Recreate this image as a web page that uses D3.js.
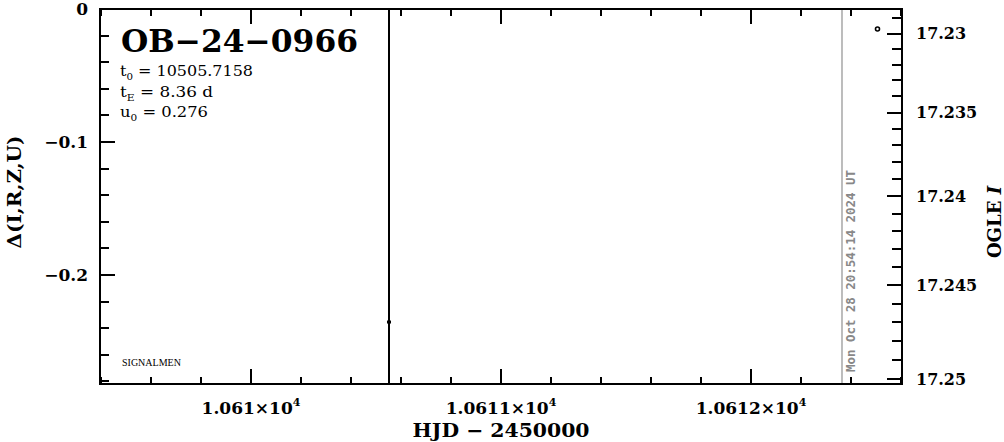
<!DOCTYPE html>
<html><head><meta charset="utf-8">
<script src="https://cdn.jsdelivr.net/npm/d3@7"></script>
<style>
html,body{margin:0;padding:0;background:#fff;}
svg{display:block;}
</style></head>
<body>
<svg id="c" width="1004" height="442"></svg>
<script>
// ---- data ----
const eventName = "OB\u221224\u22120966";
const paramLines = [
  {sym: "t", sub: "0", text: " = 10505.7158"},
  {sym: "t", sub: "E", text: " = 8.36 d"},
  {sym: "u", sub: "0", text: " = 0.276"}
];
const xMajorTicks = [10610, 10611, 10612];
const xMajorLabels = ["1.061", "1.0611", "1.0612"];
const xMinorStep = 0.2;
const xDomain = [10609.396, 10612.604];
const yDomain = [0, -0.282];
const yMajorTicks = [0, -0.1, -0.2];
const yMajorLabels = ["0", "\u22120.1", "\u22120.2"];
const yMinorStep = 0.02;
const magMajorTicks = [17.23, 17.235, 17.24, 17.245, 17.25];
const magMajorLabels = ["17.23", "17.235", "17.24", "17.245", "17.25"];
const magMinorTicks = [17.229, 17.231, 17.232, 17.233, 17.234, 17.236, 17.237, 17.238, 17.239,
                       17.241, 17.242, 17.243, 17.244, 17.246, 17.247, 17.248, 17.249];
// survey points (Delta) with error bars
const deltaHJD = [10610.552];
const deltaVal = [-0.2354];
const deltaErr = [0.5];
// OGLE points (magnitude)
const ogleHJD = [10612.506];
const ogleMag = [17.2297];
const nowHJD = 10612.364;
const nowText = "Mon Oct 28 20:54:14 2024 UT";

function magToDelta(m) {
  const u = (m - 17.24) / 0.005;
  return -(0.14094 + 0.06495 * u + 0.001872 * u * u);
}

// ---- layout ----
const L = 100, R = 902, T = 9, B = 384;
const svg = d3.select("#c");
const x = d3.scaleLinear().domain(xDomain).range([L, R]);
const y = d3.scaleLinear().domain(yDomain).range([T, B]);
const yMag = v => y(magToDelta(v));

const serif = "'DejaVu Serif', serif";
const minorX = d3.range(Math.ceil(xDomain[0] / xMinorStep) * xMinorStep, xDomain[1], xMinorStep)
  .map(v => +v.toFixed(3)).filter(v => !xMajorTicks.some(t => Math.abs(t - v) < 1e-6));
const minorY = d3.range(0, yDomain[1] - 1e-9, -yMinorStep)
  .map(v => +v.toFixed(3)).filter(v => !yMajorTicks.some(t => Math.abs(t - v) < 1e-6) && v >= yDomain[1]);

// "now" line
svg.append("line").attr("x1", x(nowHJD)).attr("x2", x(nowHJD)).attr("y1", T).attr("y2", B)
  .attr("stroke", "#999").attr("stroke-width", 1.3);

// ticks (inward) on all four sides
const p = d3.path();
const r = v => Math.round(v);
function vTicks(vals, len) {
  vals.forEach(v => {
    const xx = r(x(v));
    p.moveTo(xx, B); p.lineTo(xx, B - len);
    p.moveTo(xx, T); p.lineTo(xx, T + len);
  });
}
vTicks(xMajorTicks, 15);
vTicks(minorX, 7);
yMajorTicks.forEach(v => { p.moveTo(L, r(y(v))); p.lineTo(L + 15, r(y(v))); });
minorY.forEach(v => { p.moveTo(L, r(y(v))); p.lineTo(L + 9, r(y(v))); });
magMajorTicks.forEach(v => { p.moveTo(R - 15, r(yMag(v))); p.lineTo(R, r(yMag(v))); });
magMinorTicks.forEach(v => { p.moveTo(R - 10, r(yMag(v))); p.lineTo(R, r(yMag(v))); });
svg.append("path").attr("d", p.toString()).attr("fill", "none").attr("stroke", "#000").attr("stroke-width", 2);

// frame
svg.append("rect").attr("x", L).attr("y", T).attr("width", R - L).attr("height", B - T)
  .attr("fill", "none").attr("stroke", "#000").attr("stroke-width", 2);

// data: Delta points with error bars (clipped to the frame)
deltaHJD.forEach((h, i) => {
  const y1 = Math.max(T, y(deltaVal[i] + deltaErr[i])), y2 = Math.min(B, y(deltaVal[i] - deltaErr[i]));
  svg.append("line").attr("x1", x(h)).attr("x2", x(h)).attr("y1", y1).attr("y2", y2)
    .attr("stroke", "#000").attr("stroke-width", 2);
  svg.append("rect").attr("x", x(h) - 2).attr("y", y(deltaVal[i]) - 1.5).attr("width", 4).attr("height", 3).attr("fill", "#000");
});
// OGLE points
ogleHJD.forEach((h, i) => {
  svg.append("circle").attr("cx", x(h)).attr("cy", yMag(ogleMag[i])).attr("r", 2)
    .attr("fill", "none").attr("stroke", "#000").attr("stroke-width", 1.6);
});

// tick labels
const lblFont = "'DejaVu Serif', serif";
svg.append("g").selectAll("text").data(yMajorTicks).join("text")
  .attr("x", 88).attr("y", d => Math.max(y(d), 9)).attr("dy", "0.36em")
  .attr("text-anchor", "end").attr("font-family", lblFont).attr("font-weight", "bold").attr("font-size", 17)
  .text((d, i) => yMajorLabels[i]);
svg.append("g").selectAll("text").data(magMajorTicks).join("text")
  .attr("x", 916).attr("y", d => yMag(d)).attr("dy", "0.36em")
  .attr("text-anchor", "start").attr("font-family", lblFont).attr("font-weight", "bold").attr("font-size", 16)
  .text((d, i) => magMajorLabels[i]);
const xl = svg.append("g").selectAll("text").data(xMajorTicks).join("text")
  .attr("x", d => x(d)).attr("y", 414)
  .attr("text-anchor", "middle").attr("font-family", lblFont).attr("font-weight", "bold").attr("font-size", 17);
xl.append("tspan").text((d, i) => xMajorLabels[i] + "\u00d710");
xl.append("tspan").attr("dy", -8).attr("font-size", 11).text("4");

// axis titles
svg.append("text").attr("x", 501).attr("y", 437).attr("text-anchor", "middle")
  .attr("font-family", lblFont).attr("font-weight", "bold").attr("font-size", 19)
  .attr("textLength", 177).attr("lengthAdjust", "spacingAndGlyphs")
  .text("HJD \u2212 2450000");
svg.append("text").attr("transform", "translate(21,192) rotate(-90)").attr("text-anchor", "middle")
  .attr("font-family", lblFont).attr("font-weight", "bold").attr("font-size", 18)
  .attr("textLength", 113).attr("lengthAdjust", "spacingAndGlyphs")
  .text("\u0394(I,R,Z,U)");
const rt = svg.append("text").attr("transform", "translate(1001,222) rotate(-90)").attr("text-anchor", "middle")
  .attr("font-family", lblFont).attr("font-weight", "bold").attr("font-size", 18);
rt.append("tspan").text("OGLE ");
rt.append("tspan").attr("font-style", "italic").text("I");

// "now" text
svg.append("text").attr("transform", `translate(${x(nowHJD) + 13},372) rotate(-90)`)
  .attr("text-anchor", "start").attr("font-family", "'DejaVu Sans Mono', monospace").attr("font-weight", "bold")
  .attr("font-size", 12).attr("fill", "#888").attr("textLength", 202).attr("lengthAdjust", "spacingAndGlyphs")
  .text(nowText);

// title & parameters
svg.append("text").attr("x", 121).attr("y", 52).attr("font-family", serif).attr("font-weight", "bold")
  .attr("font-size", 31).attr("textLength", 237).attr("lengthAdjust", "spacingAndGlyphs").text(eventName);
const pBase = [76, 96.5, 117];
const pWidth = [133, 93, 88];
paramLines.forEach((pl, i) => {
  const t = svg.append("text").attr("x", 120).attr("y", pBase[i]).attr("font-family", serif).attr("font-size", 14)
    .attr("textLength", pWidth[i]).attr("lengthAdjust", "spacingAndGlyphs");
  t.append("tspan").text(pl.sym);
  t.append("tspan").attr("dy", 4).attr("font-size", 9).text(pl.sub);
  t.append("tspan").attr("dy", -4).text(pl.text);
});
svg.append("text").attr("x", 122).attr("y", 366).attr("font-family", "'Liberation Serif', serif").attr("font-size", 10)
  .text("SIGNALMEN");
</script>
</body></html>
